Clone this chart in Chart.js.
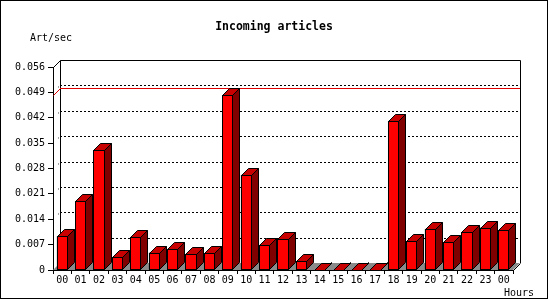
<!DOCTYPE html>
<html><head><meta charset="utf-8">
<script src="https://cdn.jsdelivr.net/npm/chart.js@4/dist/chart.umd.min.js"></script>
<style>html,body{margin:0;padding:0;background:#fff;overflow:hidden}canvas{display:block}</style>
</head><body>
<canvas id="c" width="550" height="300"></canvas>
<script>
const hours = ['00','01','02','03','04','05','06','07','08','09','10','11','12','13','14','15','16','17','18','19','20','21','22','23','00'];
const artPerSec = [0.0093,0.0189,0.0331,0.0035,0.0090,0.0048,0.0058,0.0043,0.0046,0.0482,0.0263,0.0070,0.0085,0.0025,0,0,0,0,0.0412,0.0080,0.0114,0.0076,0.0104,0.0117,0.0110];
const yTickValues = [0,0.007,0.014,0.021,0.028,0.035,0.042,0.049,0.056];
const yTickLabels = ['0','0.007','0.014','0.021','0.028','0.035','0.042','0.049','0.056'];
const titleText = 'Incoming articles';
const yAxisTitle = 'Art/sec';
const xAxisTitle = 'Hours';

const DX = 7, DY = 7;
const MONO = '"DejaVu Sans Mono", "Liberation Mono", monospace';

function seg(ctx, x1, y1, x2, y2) { ctx.beginPath(); ctx.moveTo(x1, y1); ctx.lineTo(x2, y2); ctx.stroke(); }

const threeD = {
  id: 'threeD',
  beforeDatasetsDraw(chart) {
    const ctx = chart.ctx, a = chart.chartArea, ys = chart.scales.y;
    const L = Math.round(a.left), R = Math.round(a.right), T = Math.round(a.top), B = Math.round(a.bottom);
    ctx.save();
    // floor
    ctx.fillStyle = '#8a8a8a';
    ctx.beginPath();
    ctx.moveTo(L, B); ctx.lineTo(R, B); ctx.lineTo(R + DX, B - DY); ctx.lineTo(L + DX, B - DY);
    ctx.closePath(); ctx.fill();
    // dotted gridlines on back plane
    ctx.strokeStyle = '#000'; ctx.lineWidth = 1;
    yTickValues.forEach(v => {
      if (v <= 0 || v >= yTickValues[yTickValues.length - 1]) return;
      const py = Math.round(ys.getPixelForValue(v));
      ctx.setLineDash([2, 2]);
      seg(ctx, L + DX, py - DY + 0.5, R + DX, py - DY + 0.5);
      ctx.setLineDash([1, 3]);
      seg(ctx, L + DX - 1, py - DY + 1.5, L + DX - 3, py - DY + 3.5);
    });
    ctx.setLineDash([]);
    // back frame
    ctx.beginPath();
    ctx.moveTo(L + DX + 0.5, B - DY);
    ctx.lineTo(L + DX + 0.5, T - DY + 0.5);
    ctx.lineTo(R + DX + 0.5, T - DY + 0.5);
    ctx.lineTo(R + DX + 0.5, B - DY);
    ctx.stroke();
    seg(ctx, L + 0.5, T + 0.5, L + DX + 0.5, T - DY + 0.5);
    seg(ctx, R + 0.5, B + 0.5, R + DX + 0.5, B - DY + 0.5);
    // max line (red)
    const mx = Math.max(...artPerSec);
    const my = Math.round(ys.getPixelForValue(mx));
    ctx.strokeStyle = '#e00000';
    seg(ctx, L + DX, my - DY + 0.5, R + DX, my - DY + 0.5);
    seg(ctx, L + 0.5, my + 0.5, L + DX + 0.5, my - DY + 0.5);
    ctx.restore();
  },
  afterDatasetsDraw(chart) {
    const ctx = chart.ctx;
    ctx.save();
    ctx.strokeStyle = '#000'; ctx.lineWidth = 1;
    chart.getDatasetMeta(0).data.forEach(bar => {
      const p = bar.getProps(['x', 'y', 'base', 'width'], true);
      const x0 = Math.round(p.x - p.width / 2) + 0.5, x1 = Math.round(p.x + p.width / 2) - 0.5;
      const yt = Math.round(p.y) + 0.5, yb = Math.round(p.base) - 0.5;
      // side
      ctx.fillStyle = '#800000';
      ctx.beginPath();
      ctx.moveTo(x1, yt); ctx.lineTo(x1 + DX, yt - DY); ctx.lineTo(x1 + DX, yb - DY); ctx.lineTo(x1, yb);
      ctx.closePath(); ctx.fill(); ctx.stroke();
      // top
      ctx.fillStyle = '#c80000';
      ctx.beginPath();
      ctx.moveTo(x0, yt); ctx.lineTo(x1, yt); ctx.lineTo(x1 + DX, yt - DY); ctx.lineTo(x0 + DX, yt - DY);
      ctx.closePath(); ctx.fill(); ctx.stroke();
      // front
      if (yb > yt) {
        ctx.fillStyle = '#ff0000';
        ctx.fillRect(x0, yt, x1 - x0, yb - yt);
        ctx.strokeRect(x0, yt, x1 - x0, yb - yt);
      }
    });
    ctx.restore();
  },
  afterDraw(chart) {
    const ctx = chart.ctx;
    ctx.save();
    ctx.fillStyle = '#000';
    ctx.font = 'bold 11.5px ' + MONO;
    ctx.textAlign = 'center'; ctx.textBaseline = 'alphabetic';
    ctx.fillText(titleText, 274, 30);
    ctx.font = '10px ' + MONO;
    ctx.textAlign = 'left';
    ctx.fillText(yAxisTitle, 30, 41);
    ctx.fillText(xAxisTitle, 504, 296);
    ctx.strokeStyle = '#000'; ctx.lineWidth = 1;
    ctx.strokeRect(0.5, 0.5, 547, 298);
    ctx.restore();
  }
};

new Chart(document.getElementById('c'), {
  type: 'bar',
  data: {
    labels: hours,
    datasets: [{
      data: artPerSec,
      backgroundColor: '#ff0000',
      borderColor: '#000',
      borderWidth: 1,
      borderSkipped: false,
      categoryPercentage: 1,
      barPercentage: 0.6
    }]
  },
  options: {
    responsive: false,
    animation: false,
    events: [],
    devicePixelRatio: 1,
    layout: { padding: { left: 0, right: 37, top: 67, bottom: 0 } },
    plugins: { legend: { display: false }, tooltip: { enabled: false }, title: { display: false } },
    scales: {
      x: {
        z: 1,
        afterFit: s => { s.height = 30; },
        grid: { display: true, offset: true, drawOnChartArea: false, drawTicks: true, tickLength: 4, color: '#000' },
        border: { display: true, color: '#000', width: 1 },
        ticks: { color: '#000', padding: 0, font: { family: MONO, size: 10 }, maxRotation: 0, autoSkip: false }
      },
      y: {
        z: 1,
        min: 0, max: 0.056,
        afterFit: s => { s.width = 53; },
        afterBuildTicks: s => { s.ticks = yTickValues.map(v => ({ value: v })); },
        grid: { display: true, drawOnChartArea: false, drawTicks: true, tickLength: 5, color: '#000' },
        border: { display: true, color: '#000', width: 1 },
        ticks: { color: '#000', padding: 3, font: { family: MONO, size: 10 },
                 callback: (v, i) => yTickLabels[i] }
      }
    }
  },
  plugins: [threeD]
});
</script>
</body></html>
